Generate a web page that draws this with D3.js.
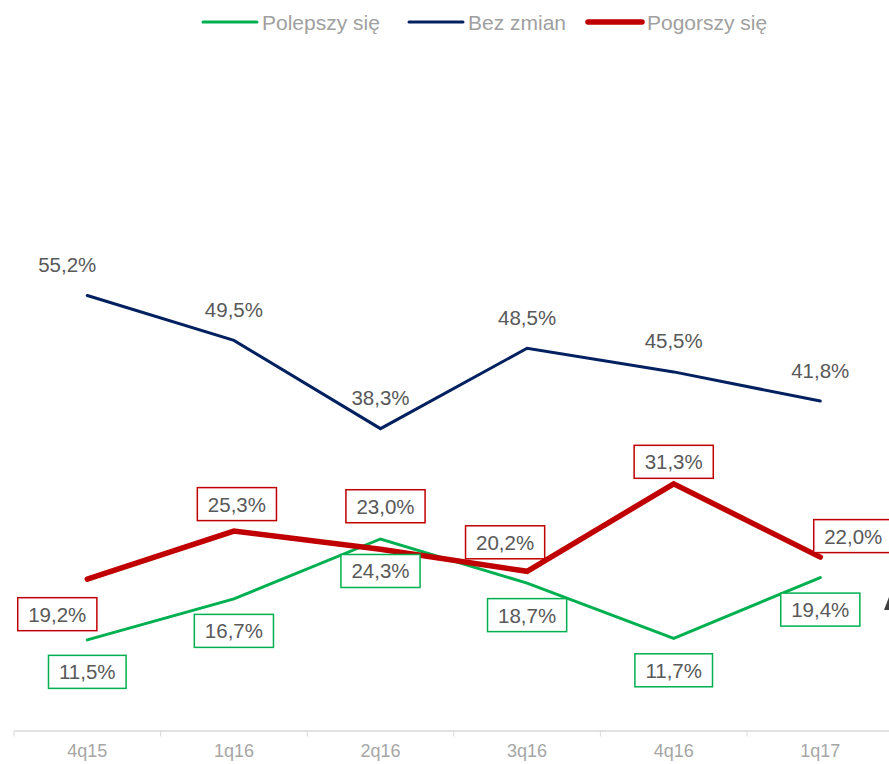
<!DOCTYPE html>
<html>
<head>
<meta charset="utf-8">
<script src="https://cdn.jsdelivr.net/npm/d3@7"></script>
<style>
  body { margin: 0; background: #fff; }
  svg { display: block; font-family: "Liberation Sans", Arial, sans-serif; }
</style>
</head>
<body>
<div id="chart"></div>
<script>

// data
var quarters = ["4q15", "1q16", "2q16", "3q16", "4q16", "1q17"];
var polepszy = [11.5, 16.7, 24.3, 18.7, 11.7, 19.4];
var bezZmian = [55.2, 49.5, 38.3, 48.5, 45.5, 41.8];
var pogorszy = [19.2, 25.3, 23.0, 20.2, 31.3, 22.0];
var seriesNames = ["Polepszy się", "Bez zmian", "Pogorszy się"];

// label placement (pixels from the point), hand-tuned like in the original
var labelShift = {
    green: [[0, 32], [0, 32], [0, 32], [0, 32], [0, 32], [0, 32]],
    navy:  [[-20, -31], [0, -31], [0, -31], [0, -31], [0, -31], [0, -31]],
    red:   [[-30, 35], [3, -27], [5, -43], [-22, -29], [0, -22], [33, -21]]
};

var width = 889, height = 764;

var svg = d3.select("#chart").append("svg")
    .attr("width", width)
    .attr("height", height);

var x = d3.scaleBand()
    .domain(quarters)
    .range([14, 14 + 146.6 * quarters.length]);

var y = d3.scaleLinear()
    .domain([0, 80])
    .range([730.5, 100]);

var series = [
    {name: seriesNames[0], values: polepszy, color: "#00b050", w: 3, key: "green", boxed: true},
    {name: seriesNames[1], values: bezZmian, color: "#002060", w: 3, key: "navy", boxed: false},
    {name: seriesNames[2], values: pogorszy, color: "#c00000", w: 5.5, key: "red", boxed: true}
];

// x axis
var xAxis = d3.axisBottom(x).tickSize(0).tickPadding(14);
var gx = svg.append("g")
    .attr("transform", "translate(0," + y(0) + ")")
    .call(xAxis);
gx.select(".domain").attr("stroke", "#d9d9d9").attr("stroke-width", 1.5);
gx.selectAll("text")
    .attr("fill", "#a6a6a6")
    .attr("font-size", 18)
    .attr("font-family", "Liberation Sans, Arial, sans-serif");

// tick marks between categories
gx.selectAll(".sep")
    .data(quarters)
    .enter().append("line")
    .attr("class", "sep")
    .attr("x1", function(d){ return x(d); })
    .attr("x2", function(d){ return x(d); })
    .attr("y1", 0)
    .attr("y2", 6)
    .attr("stroke", "#d9d9d9")
    .attr("stroke-width", 1);

var line = d3.line()
    .x(function(d, i){ return x(quarters[i]) + x.bandwidth() / 2; })
    .y(function(d){ return y(d); });

series.forEach(function(s){
    svg.append("path")
        .attr("d", line(s.values))
        .attr("fill", "none")
        .attr("stroke", s.color)
        .attr("stroke-width", s.w)
        .attr("stroke-linecap", "round")
        .attr("stroke-linejoin", "miter");
});

// data labels
series.forEach(function(s){
    s.values.forEach(function(v, i){
        var sh = labelShift[s.key][i];
        var cx = x(quarters[i]) + x.bandwidth() / 2 + sh[0];
        var cy = y(v) + sh[1];
        var g = svg.append("g");
        var t = g.append("text")
            .attr("x", cx)
            .attr("y", cy)
            .attr("text-anchor", "middle")
            .attr("dominant-baseline", "central")
            .attr("font-size", 20.5)
            .attr("fill", "#595959")
            .text(d3.format(".1f")(v).replace(".", ",") + "%");
        if (s.boxed){
            var bb = t.node().getBBox();
            g.insert("rect", "text")
                .attr("x", cx - bb.width / 2 - 10.5)
                .attr("y", cy - 16.5)
                .attr("width", bb.width + 21)
                .attr("height", 33)
                .attr("fill", "#fff")
                .attr("stroke", s.color)
                .attr("stroke-width", 1.5);
        }
    });
});

// legend
var legendX = [203, 409, 588];
var legend = svg.append("g");
series.forEach(function(s, i){
    legend.append("line")
        .attr("x1", legendX[i])
        .attr("x2", legendX[i] + 54)
        .attr("y1", 22)
        .attr("y2", 22)
        .attr("stroke", s.color)
        .attr("stroke-width", s.w)
        .attr("stroke-linecap", "round");
    legend.append("text")
        .attr("x", legendX[i] + 59)
        .attr("y", 22)
        .attr("dominant-baseline", "central")
        .attr("font-size", 21)
        .attr("fill", "#a0a0a0")
        .text(s.name);
});

// clipped glyph at right edge
svg.append("path")
    .attr("d", "M884,610 L889,597 L889,610 Z")
    .attr("fill", "#404040");

</script>
</body>
</html>
